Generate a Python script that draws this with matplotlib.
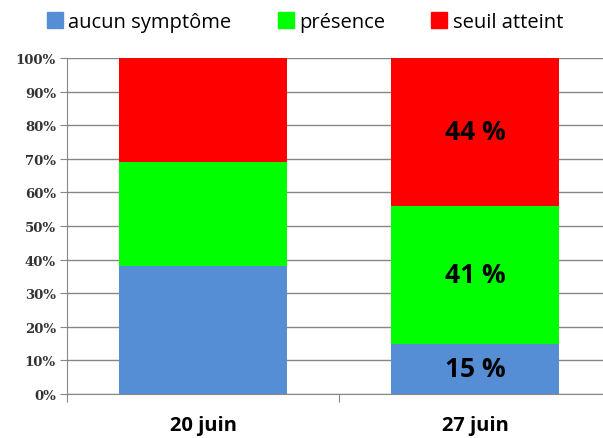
import matplotlib
matplotlib.use("Agg")
import matplotlib.pyplot as plt
from matplotlib.patches import Patch

categories = ["20 juin", "27 juin"]
series_names = ["aucun symptôme", "présence", "seuil atteint"]
aucun = [38, 15]
presence = [31, 41]
seuil = [31, 44]
labels_27 = ["15 %", "41 %", "44 %"]
colors = ["#558ED5", "#00FF00", "#FF0000"]

fig = plt.figure(figsize=(6.03, 4.39), dpi=100)
ax = fig.add_axes([67/603, 1-395/439, 1-67/603, (395-59)/439])

x = list(range(len(categories)))
w = 0.62
bottoms = [0, 0]
for vals, col, name in zip([aucun, presence, seuil], colors, series_names):
    ax.bar(x, vals, w, bottom=bottoms, color=col, label=name, zorder=2)
    bottoms = [b + v for b, v in zip(bottoms, vals)]

b = 0
for vals, lab in zip([aucun, presence, seuil], labels_27):
    v = vals[1]
    ax.text(1, b + v/2, lab, ha="center", va="center", fontsize=19,
            fontweight="bold", family="Open Sans", color="black", zorder=3)
    b += v

ax.set_ylim(0, 100)
ax.set_xlim(-0.5, 1.5 - 8/272)
ax.set_yticks(range(0, 101, 10))
ax.set_yticklabels([f"{t}%" for t in range(0, 101, 10)], fontsize=9.5,
                   fontweight="bold", family="DejaVu Serif", color="#333333")
ax.yaxis.grid(True, color="#868686", linewidth=1, zorder=0)
ax.set_xticks([-0.5, 0.5])
ax.set_xticklabels(["", ""])
ax.tick_params(axis="x", length=6, color="#868686", direction="out")
ax.tick_params(axis="y", length=5, color="#868686", direction="out", pad=3)
for i, c in enumerate(categories):
    ax.text(i, -9.3, c, ha="center", va="center", fontsize=14.5, fontweight="bold",
            family="Open Sans", color="black", clip_on=False)

for s in ["top", "right"]:
    ax.spines[s].set_visible(False)
ax.spines["left"].set_color("#868686")
ax.spines["bottom"].set_color("#868686")

handles = [Patch(color=c, label=n) for c, n in zip(colors, series_names)]
fig.legend(handles=handles, loc="center", bbox_to_anchor=(0.506, 1-23/439), ncol=3,
           frameon=False, prop={"family": "Open Sans", "size": 14.5},
           handlelength=0.8, handleheight=0.8, handletextpad=0.25, columnspacing=2.3)

fig.savefig("out.png", dpi=100)
